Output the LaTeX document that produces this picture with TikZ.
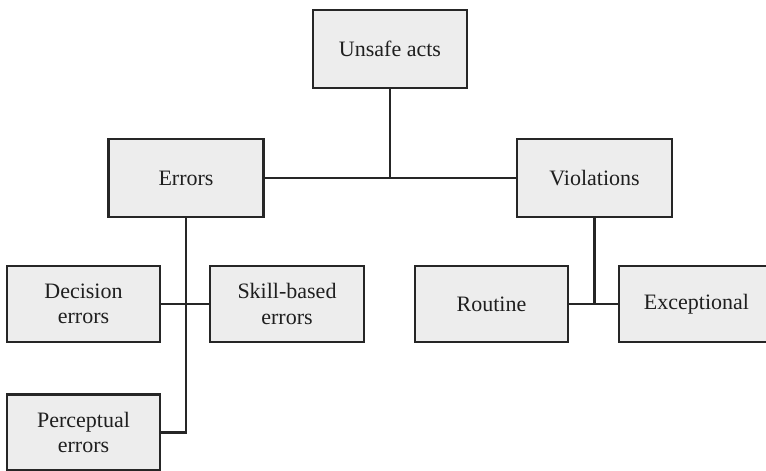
\documentclass[tikz,border=0pt]{standalone}
\usepackage{fontspec}
\setmainfont{Liberation Serif}
\begin{document}
\begin{tikzpicture}[x=1pt,y=-1pt,
  box/.style={draw=black!85, line width=2.8pt, fill=black!7, align=center,
    inner sep=0pt, text=black!88, font=\fontsize{22}{25.5}\selectfont},
  link/.style={draw=black!85, line width=2.6pt}]
\useasboundingbox (0,0) rectangle (766,471);
\clip (0,0) rectangle (766,471);
\node[box, minimum width=154pt, minimum height=78pt] (unsafe) at (390,49) {Unsafe acts};
\node[box, minimum width=155pt, minimum height=78pt] (errors) at (186,178) {Errors};
\node[box, minimum width=155pt, minimum height=78pt] (viol) at (594.5,178) {Violations};
\node[box, minimum width=153pt, minimum height=76pt] (dec) at (83.5,304) {Decision\\errors};
\node[box, minimum width=154pt, minimum height=76pt] (skill) at (287,304) {Skill-based\\errors};
\node[box, minimum width=153pt, minimum height=76pt] (perc) at (83.5,432.5) {Perceptual\\errors};
\node[box, minimum width=153pt, minimum height=76pt] (routine) at (491.5,304) {Routine};
\node[box, minimum width=155pt, minimum height=76pt] (exc) at (696.5,304) {Exceptional};
\draw[link] (unsafe.south) -- (unsafe.south |- errors.east);
\draw[link] (errors.east) -- (viol.west);
\draw[link] (errors.south) |- (perc.east);
\draw[link] (dec.east) -- (skill.west);
\draw[link] (viol.south) -- (viol.south |- routine.east);
\draw[link] (routine.east) -- (exc.west);
\end{tikzpicture}
\end{document}
